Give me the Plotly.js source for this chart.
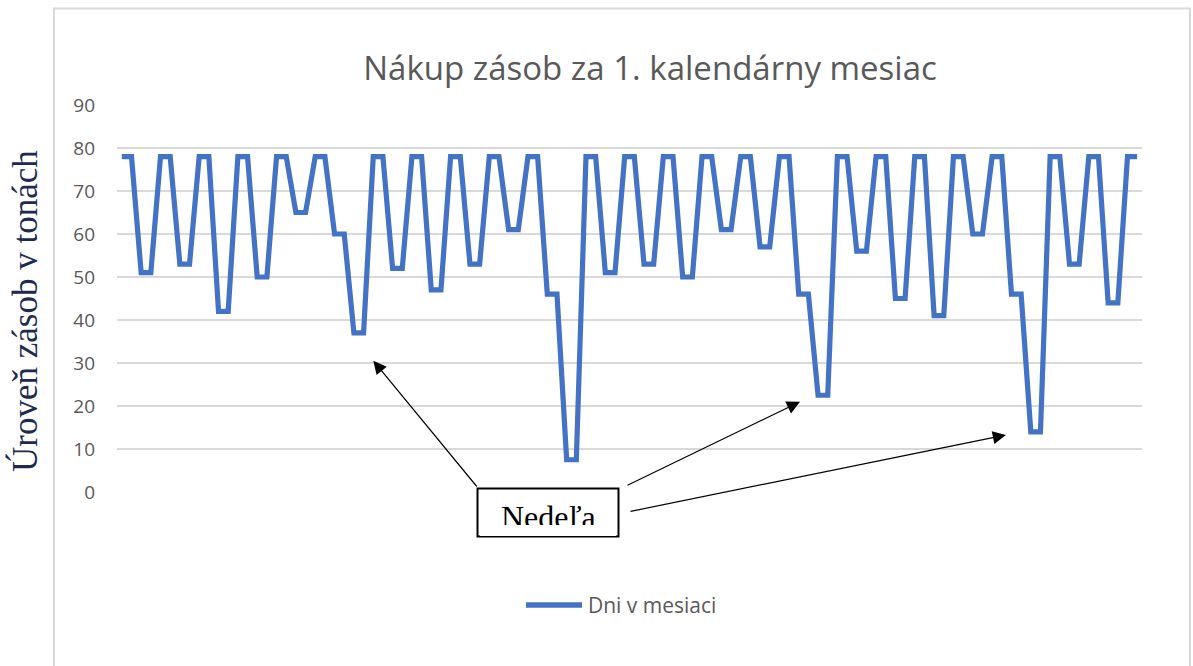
<!DOCTYPE html>
<html>
<head>
<meta charset="utf-8">
<script src="https://cdn.plot.ly/plotly-3.0.1.min.js"></script>
<style>
  html, body { margin: 0; padding: 0; background: #ffffff; }
  #chart { width: 1193px; height: 666px; }
</style>
</head>
<body>
<div id="chart"></div>
<script>
// ---- Data ----
const chartTitle = "Nákup zásob za 1. kalendárny mesiac";
const yAxisTitle = "Úroveň zásob v tonách";
const seriesName = "Dni v mesiaci";
const calloutText = "Nedeľa";
const yTicks = [0, 10, 20, 30, 40, 50, 60, 70, 80, 90];

// Stock level, two readings per step (106 points)
const stockLevels = [
  78, 78, 51, 51, 78, 78, 53, 53, 78, 78, 42, 42, 78, 78, 50, 50, 78, 78, 65, 65,
  78, 78, 60, 60, 37, 37, 78, 78, 52, 52, 78, 78, 47, 47, 78, 78, 53, 53, 78, 78,
  61, 61, 78, 78, 46, 46, 7.5, 7.5, 78, 78, 51, 51, 78, 78, 53, 53, 78, 78, 50, 50,
  78, 78, 61, 61, 78, 78, 57, 57, 78, 78, 46, 46, 22.5, 22.5, 78, 78, 56, 56, 78, 78,
  45, 45, 78, 78, 41, 41, 78, 78, 60, 60, 78, 78, 46, 46, 14, 14, 78, 78, 53, 53,
  78, 78, 44, 44, 78, 78
];
const categories = stockLevels.map((_, i) => i + 1);

// ---- Plot geometry helpers (pixel -> paper) ----
const W = 1193, H = 666;
const M = { l: 117, r: 51, t: 105, b: 174 };
const PW = W - M.l - M.r, PH = H - M.t - M.b;
const px = x => (x - M.l) / PW;
const py = y => (H - M.b - y) / PH;

const blue = "#4472c4";
const grid = "#d9d9d9";
const gray = "#595959";

const trace = {
  x: categories,
  y: stockLevels,
  type: "scatter",
  mode: "lines",
  name: seriesName,
  line: { color: blue, width: 5.2 },
  hoverinfo: "y",
  showlegend: false
};

const arrowHeads = [
  { hx: 373.3, hy: 360.7, tx: 478, ty: 488 },
  { hx: 800, hy: 401.7, tx: 626, ty: 486 },
  { hx: 1006, hy: 435, tx: 629, ty: 511.7 }
];

const annotations = [
  {
    text: yAxisTitle, xref: "paper", yref: "paper",
    x: px(25), y: py(311), xanchor: "center", yanchor: "middle",
    textangle: -90, showarrow: false,
    font: { family: "Liberation Serif, Times New Roman, serif", size: 35, color: "#1c2b4f" }
  },
  {
    text: calloutText, xref: "paper", yref: "paper",
    x: px(548), y: py(517), xanchor: "center", yanchor: "middle",
    showarrow: false,
    font: { family: "Liberation Serif, Times New Roman, serif", size: 32, color: "#000000" }
  },
  {
    text: "\u00a0", xref: "paper", yref: "paper",
    x: px(548), y: py(530), xanchor: "center", yanchor: "middle",
    width: 136, height: 11, bgcolor: "#ffffff", borderpad: 0, borderwidth: 0,
    showarrow: false, font: { size: 6 }
  },
  {
    text: seriesName, xref: "paper", yref: "paper",
    x: px(586), y: py(605), xanchor: "left", yanchor: "middle",
    showarrow: false,
    font: { family: "Open Sans, sans-serif", size: 21, color: gray }
  }
];
arrowHeads.forEach(a => {
  annotations.push({
    text: "", xref: "paper", yref: "paper",
    x: px(a.hx), y: py(a.hy),
    ax: a.tx - a.hx, ay: a.ty - a.hy,
    showarrow: true, arrowhead: 2, arrowsize: 2.2, arrowwidth: 1.2,
    arrowcolor: "#000000", standoff: 0, startstandoff: 0
  });
});

const shapes = [
  // chart frame
  { type: "line", xref: "paper", yref: "paper", x0: px(54), x1: px(54), y0: py(8.5), y1: py(680), line: { color: grid, width: 2 } },
  { type: "line", xref: "paper", yref: "paper", x0: px(53), x1: px(1191), y0: py(8.5), y1: py(8.5), line: { color: grid, width: 2 } },
  { type: "line", xref: "paper", yref: "paper", x0: px(1190), x1: px(1190), y0: py(8.5), y1: py(680), line: { color: grid, width: 2 } },
  // callout box
  { type: "rect", xref: "paper", yref: "paper", x0: px(477.5), x1: px(618.5), y0: py(488.5), y1: py(536.5),
    fillcolor: "#ffffff", line: { color: "#000000", width: 2 }, layer: "above" },
  // legend sample line
  { type: "line", xref: "paper", yref: "paper", x0: px(526), x1: px(582), y0: py(605), y1: py(605),
    line: { color: blue, width: 5.5 } }
];

const layout = {
  width: W, height: H,
  margin: M,
  paper_bgcolor: "#ffffff",
  plot_bgcolor: "#ffffff",
  showlegend: false,
  title: {
    text: chartTitle,
    x: px(650), xref: "paper", xanchor: "center",
    y: 1 - 68 / H, yref: "container", yanchor: "middle",
    font: { family: "Open Sans, sans-serif", size: 33, color: gray }
  },
  xaxis: {
    range: [0.5, categories.length + 0.5],
    showticklabels: false, showgrid: false, zeroline: false, showline: false, ticks: ""
  },
  yaxis: {
    range: [0, 90],
    tickvals: yTicks,
    ticktext: yTicks.map(String),
    showgrid: true, gridcolor: grid, gridwidth: 1.5,
    zeroline: false, showline: false, ticks: "",
    ticklabelstandoff: 21,
    tickfont: { family: "Open Sans, sans-serif", size: 19, color: gray }
  },
  annotations: annotations,
  shapes: shapes
};

Plotly.newPlot("chart", [trace], layout, { displayModeBar: false, staticPlot: true });
</script>
</body>
</html>
